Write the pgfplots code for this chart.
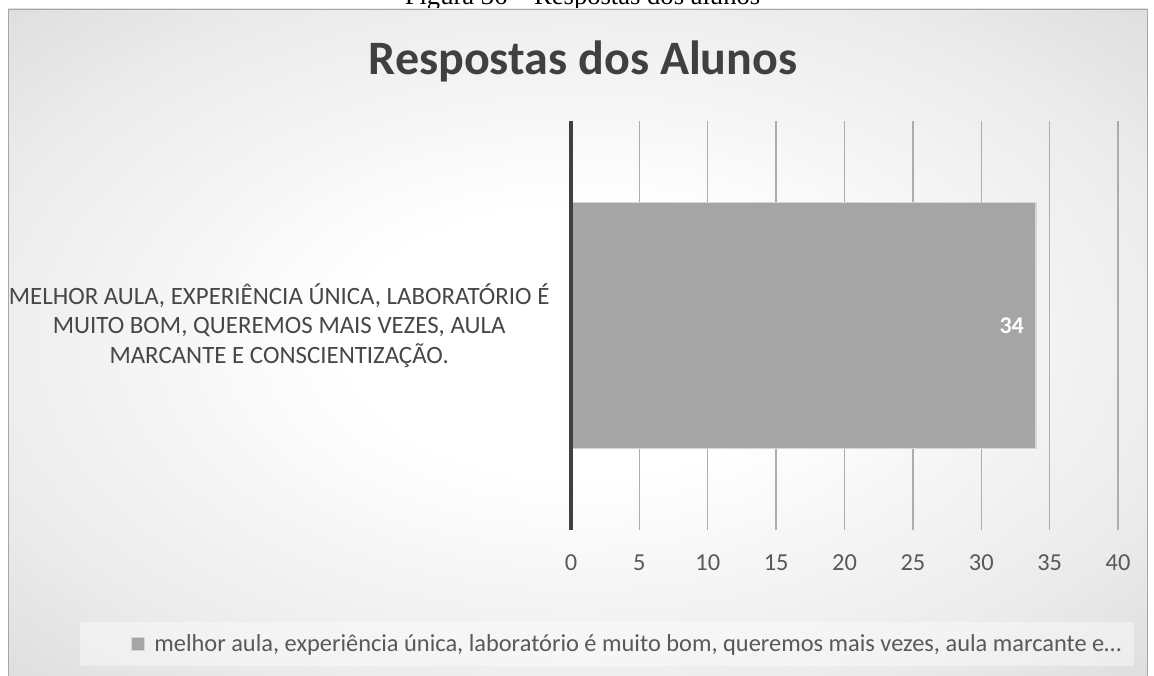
\documentclass[border=0pt]{standalone}
\usepackage{pgfplots}
\pgfplotsset{compat=1.18}
\usepackage{fontspec}
\setmainfont{Carlito}
\newfontfamily\capfont{Liberation Serif}
\definecolor{bargray}{HTML}{A5A5A5}
\definecolor{barbord}{HTML}{D6D6D6}
\definecolor{gridc}{HTML}{ADADAD}
\definecolor{dark}{HTML}{404040}
\definecolor{lab}{HTML}{474747}
\definecolor{mid}{HTML}{595959}
\pgfdeclareradialshading{bgshade}{\pgfpoint{0bp}{0bp}}{color(0bp)=(white); color(10bp)=(white); color(28bp)=(black!8); color(50bp)=(black!22); color(71bp)=(black!30); color(100bp)=(black!30)}
\newcommand\ylab{MELHOR AULA, EXPERIÊNCIA ÚNICA, LABORATÓRIO É\\MUITO BOM, QUEREMOS MAIS VEZES, AULA\\MARCANTE E CONSCIENTIZAÇÃO.}
\begin{document}
\begin{tikzpicture}
\useasboundingbox (0pt,0pt) rectangle (1154pt,675pt);
% caption (cut at the top, as in the reference)
\node[anchor=base, font=\capfont\fontsize{26.6}{30}\selectfont, inner sep=0pt] at (582.5pt,670pt) {Figura 36 – Respostas dos alunos};
% chart area background
\shade[shading=bgshade] (8pt,0pt) rectangle (1147pt,666pt);
\draw[black!35, line width=0.8pt] (8pt,-2pt) -- (8pt,666pt) -- (1147pt,666pt) -- (1147pt,-2pt);
% title
\node[anchor=base, font=\fontsize{48}{58}\selectfont\bfseries, text=dark, inner sep=0pt] at (583pt,600pt) {Respostas dos Alunos};
% legend background
\fill[white, opacity=0.4] (80pt,9pt) rectangle (1134pt,53pt);
\begin{axis}[
  at={(571pt,145pt)}, anchor=south west,
  scale only axis, width=547pt, height=409pt,
  clip=false,
  xbar, bar width=246pt, bar shift=0pt,
  xmin=0, xmax=40, ymin=-0.5, ymax=0.5,
  xtick={0,5,10,15,20,25,30,35,40},
  ytick={0},
  yticklabels={\ylab},
  yticklabel style={align=center, font=\fontsize{24.9}{29.5}\selectfont, text=lab, xshift=-18pt},
  xticklabel style={anchor=base, font=\fontsize{24.4}{28}\selectfont, text=mid, yshift=-40pt},
  /pgf/number format/assume math mode=true,
  major tick length=0pt,
  axis line style={draw=none},
  xmajorgrids, grid style={color=gridc, line width=1.3pt},
  nodes near coords,
  nodes near coords style={anchor=east, font=\fontsize{24}{28}\selectfont\bfseries, text=white, xshift=-8pt},
  legend style={at={(-0.81,-0.2787)}, anchor=west, draw=none, fill=none,
    font=\fontsize{24.4}{28}\selectfont, text=mid, column sep=7.5pt},
  legend image code/.code={\draw[fill=bargray, draw=barbord, line width=0.75pt] (0pt,-6.5pt) rectangle (13pt,6.5pt);},
]
\addplot[fill=bargray, draw=barbord, line width=1.5pt] coordinates {(34,0)};
\addlegendentry{melhor aula, experiência única, laboratório é muito bom, queremos mais vezes, aula marcante e…}
\draw[line width=4pt, color=dark] (axis cs:0,-0.5) -- (axis cs:0,0.5);
\end{axis}
\end{tikzpicture}
\end{document}
